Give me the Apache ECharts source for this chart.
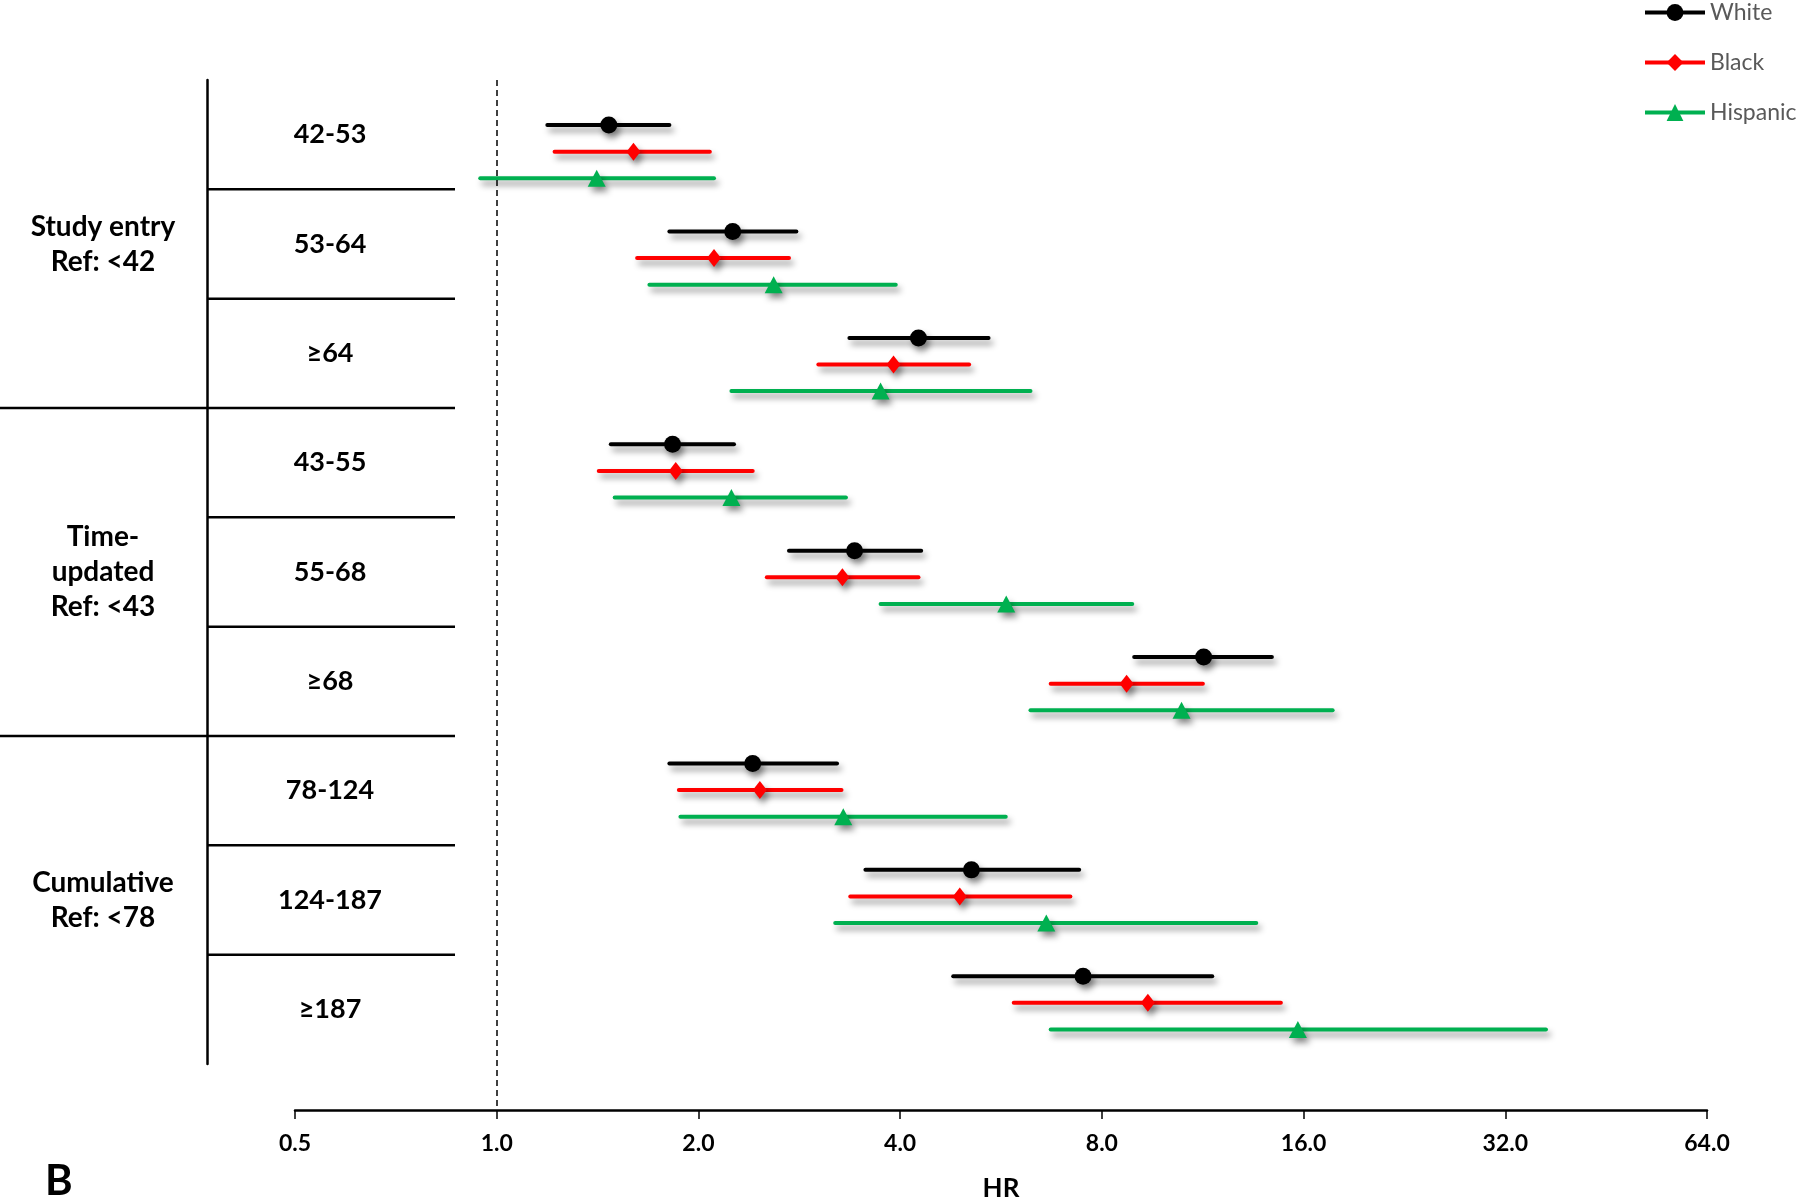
<!DOCTYPE html>
<html>
<head>
<meta charset="utf-8">
<script src="https://cdn.jsdelivr.net/npm/echarts/dist/echarts.min.js"></script>
<style>
html,body{margin:0;padding:0;background:#fff;}
#chart{width:1800px;height:1203px;}
</style>
</head>
<body>
<div id="chart"></div>
<script>
// ---------- data ----------
const rowLabels = ['42-53', '53-64', '\u226564', '43-55', '55-68', '\u226568', '78-124', '124-187', '\u2265187'];
const groupLabels = ['Study entry\nRef: <42', 'Time-\nupdated\nRef: <43', 'Cumulative\nRef: <78'];
const groupSizes = [3, 3, 3];
const xTicks = [0.5, 1, 2, 4, 8, 16, 32, 64];
const seriesNames = ['White', 'Black', 'Hispanic'];

const whiteHR = [1.47, 2.25, 4.26, 1.83, 3.42, 11.35, 2.41, 5.11, 7.50];
const whiteLo = [1.19, 1.81, 3.36, 1.48, 2.73, 8.94, 1.81, 3.55, 4.80];
const whiteHi = [1.81, 2.80, 5.42, 2.26, 4.30, 14.35, 3.22, 7.40, 11.69];

const blackHR = [1.60, 2.11, 3.91, 1.85, 3.28, 8.71, 2.47, 4.91, 9.37];
const blackLo = [1.22, 1.62, 3.02, 1.42, 2.53, 6.71, 1.87, 3.37, 5.91];
const blackHi = [2.08, 2.73, 5.07, 2.41, 4.26, 11.32, 3.27, 7.18, 14.8];

const hispHR = [1.41, 2.59, 3.74, 2.24, 5.76, 10.52, 3.29, 6.61, 15.69];
const hispLo = [0.945, 1.69, 2.24, 1.50, 3.74, 6.26, 1.88, 3.20, 6.71];
const hispHi = [2.11, 3.94, 6.26, 3.32, 8.88, 17.68, 5.75, 13.6, 36.8];

// ---------- styling ----------
const FONT = 'Lato';
const colors = ['#000000', '#FF0000', '#00B050'];
const symbols = ['circle', 'diamond', 'triangle'];
const symbolSizes = [[17, 17], [14, 18], [18, 17]];
const yOffsets = [-0.25, 0, 0.25];
const shadow = {shadowBlur: 6, shadowOffsetX: 3, shadowOffsetY: 5, shadowColor: 'rgba(0,0,0,0.42)'};

const HR = [whiteHR, blackHR, hispHR];
const LO = [whiteLo, blackLo, hispLo];
const HI = [whiteHi, blackHi, hispHi];

const series = [];
// error bars
seriesNames.forEach((name, k) => {
  const data = rowLabels.map((r, i) => [LO[k][i], HI[k][i], i + yOffsets[k]]);
  series.push({
    type: 'custom', name: name + ' CI', xAxisIndex: 0, yAxisIndex: 0, z: 2, silent: true,
    encode: {x: [0, 1], y: 2},
    data: data,
    renderItem: function (params, api) {
      const p1 = api.coord([api.value(0), api.value(2)]);
      const p2 = api.coord([api.value(1), api.value(2)]);
      return {
        type: 'line',
        shape: {x1: p1[0], y1: p1[1], x2: p2[0], y2: p2[1]},
        style: Object.assign({stroke: colors[k], lineWidth: 4, lineCap: 'round'}, shadow)
      };
    }
  });
});
// point estimates (line series with isolated points so legend shows line+marker)
seriesNames.forEach((name, k) => {
  const data = [];
  rowLabels.forEach((r, i) => {
    if (i > 0) data.push(null);
    data.push([HR[k][i], i + yOffsets[k]]);
  });
  series.push({
    type: 'line', name: name, xAxisIndex: 0, yAxisIndex: 0, z: 4,
    data: data, connectNulls: false, showSymbol: true,
    symbol: symbols[k], symbolSize: symbolSizes[k],
    itemStyle: Object.assign({color: colors[k]}, shadow),
    lineStyle: {color: colors[k], width: 4},
    markLine: k === 0 ? {
      silent: true, symbol: ['none', 'none'], label: {show: false},
      lineStyle: {color: '#000', width: 1.5, type: [6, 4]},
      data: [{xAxis: 1}]
    } : undefined
  });
});
// table separator lines
const sepData = [];
let acc = 0;
const groupEnds = groupSizes.map(s => (acc += s) - 1);
rowLabels.forEach((r, i) => {
  if (i < rowLabels.length - 1) sepData.push([0, i, groupEnds.indexOf(i) >= 0 ? 1 : 0]);
});
series.push({
  type: 'custom', name: 'table', xAxisIndex: 1, yAxisIndex: 1, silent: true, z: 1,
  encode: {x: 0, y: 1},
  data: sepData,
  renderItem: function (params, api) {
    const c = api.coord([0, api.value(1)]);
    const h = api.size([0, 1])[1];
    const y = c[1] + h / 2;
    const cs = params.coordSys;
    return {
      type: 'line',
      shape: {x1: api.value(2) ? 0 : cs.x, y1: y, x2: cs.x + cs.width, y2: y},
      style: {stroke: '#000', lineWidth: 2.5}
    };
  }
});

const option = {
  animation: false,
  backgroundColor: '#ffffff',
  title: {
    text: 'B', left: 45, top: 1160, padding: 0,
    textStyle: {fontFamily: FONT, fontSize: 42, fontWeight: 'bold', color: '#000'}
  },
  legend: {
    data: seriesNames, orient: 'vertical', left: 1643, top: 0,
    itemWidth: 60, itemHeight: 21, itemGap: 25, padding: 0,
    lineStyle: {width: 4},
    textStyle: {color: '#595959', fontSize: 23, fontFamily: FONT, lineHeight: 25}
  },
  grid: [
    {left: 295, right: 93, top: 80, bottom: 93, containLabel: false, outerBoundsMode: 'none'},
    {left: 207, top: 80, width: 248, height: 984, containLabel: false, outerBoundsMode: 'none'}
  ],
  xAxis: [
    {
      gridIndex: 0, type: 'log', logBase: 2, min: xTicks[0], max: xTicks[xTicks.length - 1], splitNumber: 7,
      axisLine: {show: true, onZero: false, lineStyle: {color: '#000', width: 2.5}},
      axisTick: {show: true, length: 9, lineStyle: {color: '#000', width: 1.5}},
      axisLabel: {
        margin: 22, color: '#000', fontFamily: FONT, fontSize: 23, fontWeight: 'bold',
        formatter: v => (Math.round(v * 10) / 10).toFixed(1)
      },
      splitLine: {show: false}, minorTick: {show: false},
      name: 'HR', nameLocation: 'middle', nameGap: 66,
      nameTextStyle: {color: '#000', fontFamily: FONT, fontSize: 26, fontWeight: 'bold'}
    },
    {gridIndex: 1, type: 'value', min: 0, max: 1, show: false}
  ],
  yAxis: [
    {gridIndex: 0, type: 'value', inverse: true, min: -0.674, max: 9.007, show: false},
    {
      gridIndex: 1, type: 'category', inverse: true, data: rowLabels, position: 'left',
      axisLine: {show: true, onZero: false, lineStyle: {color: '#000', width: 2.5}},
      axisTick: {show: false}, splitLine: {show: false},
      axisLabel: {inside: true, align: 'center', margin: 123, padding: [4, 0, 0, 0], color: '#000', fontFamily: FONT, fontSize: 27, fontWeight: 'bold'}
    },
    {
      gridIndex: 1, type: 'category', inverse: true, data: groupLabels, position: 'left',
      axisLine: {show: false}, axisTick: {show: false}, splitLine: {show: false},
      axisLabel: {align: 'center', margin: 104, lineHeight: 35, padding: [3, 0, 0, 0], color: '#000', fontFamily: FONT, fontSize: 28, fontWeight: 'bold'}
    }
  ],
  series: series
};

const chart = echarts.init(document.getElementById('chart'), null, {renderer: 'canvas'});
chart.setOption(option);
</script>
</body>
</html>
